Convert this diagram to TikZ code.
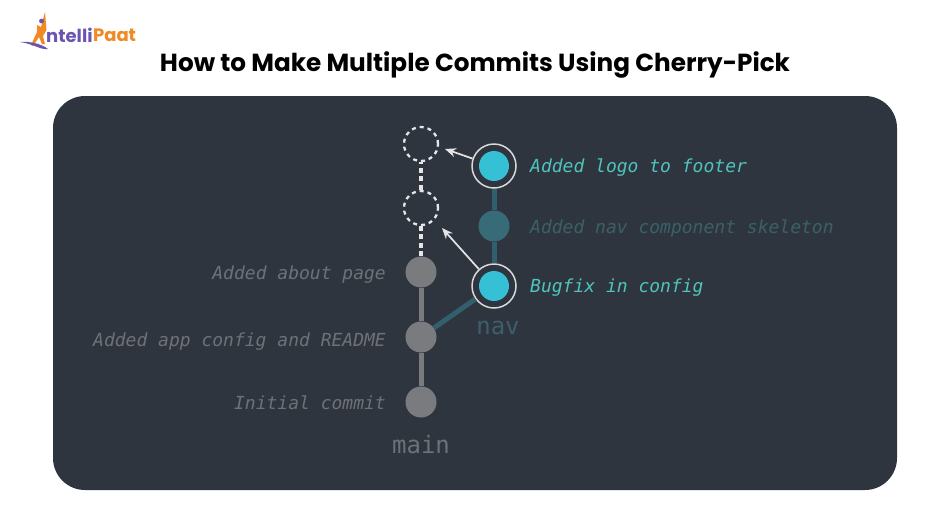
\documentclass[tikz,border=0pt]{standalone}
\usepackage{fontspec}
\setmainfont{Poppins}
\newfontfamily\brfont{DejaVu Sans Mono}
\usetikzlibrary{arrows.meta}
\definecolor{panel}{HTML}{2F353F}
\definecolor{greyc}{HTML}{7A7B7F}
\definecolor{greyl}{HTML}{6E7176}
\definecolor{cyanc}{HTML}{35C0D6}
\definecolor{tealdim}{HTML}{376B78}
\definecolor{tealedge}{HTML}{315F6D}
\definecolor{teall}{HTML}{4FC4BC}
\definecolor{teald}{HTML}{3A6166}
\definecolor{navl}{HTML}{3D5E6C}
\definecolor{orangeb}{HTML}{F08A24}
\definecolor{purpleb}{HTML}{6A55B0}
\tikzset{
 x=1pt,y=-1pt,
 commit/.style={circle,fill=greyc,minimum size=31pt,inner sep=0pt},
 dimcommit/.style={circle,fill=tealdim,minimum size=31pt,inner sep=0pt},
 picked/.style={circle,fill=cyanc,minimum size=30pt,inner sep=0pt},
 ghost/.style={circle,draw=white!90!black,line width=2.3pt,dash pattern=on 4pt off 4pt,minimum size=34pt,inner sep=0pt},
 ring/.style={circle,draw=white!85!black,line width=1.5pt,minimum size=44pt,inner sep=0pt},
 mainedge/.style={draw=greyc,line width=5pt},
 navedge/.style={draw=tealedge,line width=5pt},
 dashedge/.style={draw=white!90!black,line width=4pt,dash pattern=on 5pt off 3.5pt},
 pickarrow/.style={draw=white!90!black,line width=1.7pt,-{Stealth[length=11pt,width=9pt]}},
 lbl/.style={font=\brfont\itshape\fontsize{18}{20}\selectfont,anchor=east,text=greyl,inner sep=0pt},
 lblr/.style={font=\brfont\itshape\fontsize{18}{20}\selectfont,anchor=west,inner sep=0pt},
 branch/.style={font=\brfont\fontsize{24}{26}\selectfont,anchor=center},
}
\begin{document}
\begin{tikzpicture}
\useasboundingbox (0,0) rectangle (950,528);
\fill[white] (0,0) rectangle (950,528);
\fill[panel,rounded corners=32pt] (53,96) rectangle (897,490);

% logo
\node[font=\bfseries\fontsize{18}{20}\selectfont,anchor=west,inner sep=0pt,text=purpleb] (logoa) at (46,35) {ntelli};
\node[font=\bfseries\fontsize{18}{20}\selectfont,anchor=west,inner sep=0pt,text=orangeb] (logob) at (logoa.east) {Paat};
\fill[orangeb] (45,12) -- (46.5,30) -- (43,36) -- (45,44) -- (42,44) -- (39,37) -- (33,46) -- (31,45) -- (37,32) -- (37,25) -- (41,27) -- cycle;
\fill[purpleb] (41.5,21) circle (2.4pt);
\fill[purpleb] (20,42) .. controls (30,41) and (42,44) .. (48,49) .. controls (40,50) and (34,44) .. (20,42) -- cycle;

% title
\node[font=\fontsize{24.7}{28}\selectfont\bfseries,text=black,inner sep=0pt] (title) at (475,65) {How to Make Multiple Commits Using Cherry-Pick};

% commits
\node[ghost] (g2) at (421,144) {};
\node[ghost] (g1) at (421,208) {};
\node[commit] (c3) at (421,272) {};
\node[commit] (c2) at (421,337) {};
\node[commit] (c1) at (421,402) {};
\node[picked] (n3) at (494,166) {};
\node[dimcommit] (n2) at (494,226) {};
\node[picked] (n1) at (494,286) {};
\node[ring] (r3) at (n3) {};
\node[ring] (r1) at (n1) {};

% connectors
\draw[mainedge] (c1) -- (c2);
\draw[mainedge] (c2) -- (c3);
\draw[navedge] (c2) -- (r1);
\draw[navedge] (r1) -- (n2);
\draw[navedge] (n2) -- (r3);
\draw[dashedge] (c3) -- (g1);
\draw[dashedge] (g1) -- (g2);
\coordinate (a3) at (445,149);
\coordinate (a1) at (442,228);
\draw[pickarrow] (r3) -- (a3);
\draw[pickarrow] (r1) -- (a1);

% labels
\node[lblr,text=teall] (l3) at (530,168) {Added logo to footer};
\node[lblr,text=teald] (l2) at (530,228) {Added nav component skeleton};
\node[lblr,text=teall] (l1) at (530,288) {Bugfix in config};
\node[lbl] (m3) at (386,275) {Added about page};
\node[lbl] (m2) at (386,342) {Added app config and README};
\node[lbl] (m1) at (386,403) {Initial commit};
\node[branch,text=navl] (nav) at (498,328) {nav};
\node[branch,text=greyl] (main) at (421,445) {main};
\end{tikzpicture}
\end{document}
